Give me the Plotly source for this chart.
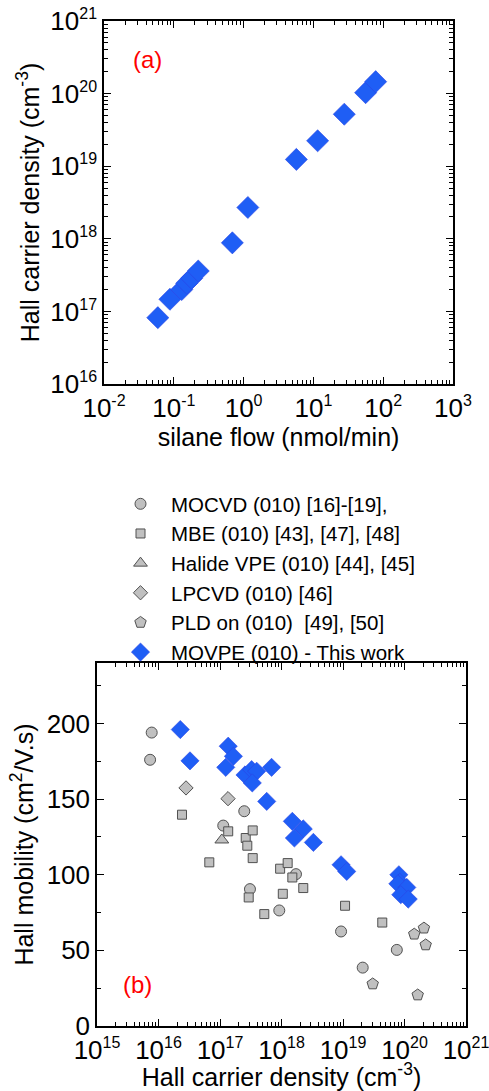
import plotly.graph_objects as go

W, H = 489, 1091

# ---------------- data: panel (a) ----------------
silane_flow = [0.059, 0.088, 0.13, 0.153, 0.18, 0.224, 0.69, 1.15, 5.7, 11.5, 27.7, 56, 78]
hall_density_a = [8.2e16, 1.47e17, 2.0e17, 2.44e17, 2.86e17, 3.6e17, 8.8e17, 2.7e18,
                  1.24e19, 2.24e19, 5.2e19, 1.03e20, 1.46e20]

# ---------------- data: panel (b) ----------------
mocvd_n = [7.75e15, 7.3e15, 2.48e17, 1.13e17, 3.07e17, 9.2e17, 1.72e18, 9.3e18, 2.09e19, 7.5e19]
mocvd_mu = [194, 176, 142, 132.5, 90.5, 76.4, 100.4, 62.5, 38.6, 50.3]

mbe_n = [2.41e16, 6.7e16, 1.36e17, 2.62e17, 2.78e17, 3.4e17, 3.4e17, 2.93e17, 5.25e17,
         9.5e17, 1.26e18, 1.05e18, 1.5e18, 2.26e18, 1.08e19, 4.35e19]
mbe_mu = [139.7, 108.2, 128.7, 124.3, 119.2, 129.3, 111, 85, 74, 104, 107.7, 87.4, 98.2,
          91.2, 79.5, 68.4]

hvpe_n = [1.07e17]
hvpe_mu = [123]

lpcvd_n = [2.8e16, 1.35e17]
lpcvd_mu = [157.4, 150.3]

pld_n = [3.04e19, 2.07e20, 1.44e20, 2.21e20, 1.64e20]
pld_mu = [27.8, 64.7, 60.7, 53.6, 20.5]

movpe_n = [2.26e16, 3.25e16, 1.36e17, 1.65e17, 1.24e17, 2.55e17, 3.27e17, 3.95e17, 3.35e17,
           6.9e17, 5.75e17, 1.5e18, 2.26e18, 1.62e18, 3.3e18, 9.3e18, 1.15e19,
           8.1e19, 8.4e19, 7.8e19, 1.09e20, 8.7e19, 1.15e20]
movpe_mu = [196, 175.3, 185, 178.3, 171, 166, 169.5, 168.4, 160.7,
            171, 148.5, 135.3, 130.3, 124.3, 121.4, 106.6, 102.2,
            100, 95, 94, 91.6, 86.8, 83.9]

legend_names = ["MOCVD (010) [16]-[19],", "MBE (010) [43], [47], [48]",
                "Halide VPE (010) [44], [45]", "LPCVD (010) [46]",
                "PLD on (010)  [49], [50]", "MOVPE (010) - This work"]

# ---------------- tick labels ----------------
xa_tickvals = [1e-2, 1e-1, 1e0, 1e1, 1e2, 1e3]
xa_exponents = ["-2", "-1", "0", "1", "2", "3"]
ya_tickvals = [1e16, 1e17, 1e18, 1e19, 1e20, 1e21]
ya_exponents = ["16", "17", "18", "19", "20", "21"]
xb_tickvals = [1e15, 1e16, 1e17, 1e18, 1e19, 1e20, 1e21]
xb_exponents = ["15", "16", "17", "18", "19", "20", "21"]
yb_tickvals = [0, 50, 100, 150, 200]
yb_ticktext = ["0", "50", "100", "150", "200"]


def pow_labels(exps):
    return ["10<sup><span style='font-size:16px'>%s</span></sup>" % e for e in exps]


BLUE = "#1f5ef5"
BLUE_EDGE = "#2b44e6"
GREY = "#c0c0c0"
GREY_EDGE = "#505050"
FONT = "Liberation Sans, Arial, sans-serif"


def minor_vals(e0, e1):
    return [m * 10.0 ** e for e in range(e0, e1) for m in range(2, 10)]


fig = go.Figure()

fig.add_trace(go.Scatter(x=silane_flow, y=hall_density_a, mode="markers",
                         marker=dict(symbol="diamond", size=17, color=BLUE,
                                     line=dict(color=BLUE_EDGE, width=0.6)),
                         showlegend=False, xaxis="x", yaxis="y"))

grey_line = dict(color=GREY_EDGE, width=1)
fig.add_trace(go.Scatter(x=mocvd_n, y=mocvd_mu, mode="markers", name=legend_names[0],
                         marker=dict(symbol="circle", size=11, color=GREY, line=grey_line),
                         xaxis="x2", yaxis="y2"))
fig.add_trace(go.Scatter(x=mbe_n, y=mbe_mu, mode="markers", name=legend_names[1],
                         marker=dict(symbol="square", size=9, color=GREY, line=grey_line),
                         xaxis="x2", yaxis="y2"))
fig.add_trace(go.Scatter(x=hvpe_n, y=hvpe_mu, mode="markers", name=legend_names[2],
                         marker=dict(symbol="triangle-up", size=12, color=GREY, line=grey_line),
                         xaxis="x2", yaxis="y2"))
fig.add_trace(go.Scatter(x=lpcvd_n, y=lpcvd_mu, mode="markers", name=legend_names[3],
                         marker=dict(symbol="diamond", size=11, color=GREY, line=grey_line),
                         xaxis="x2", yaxis="y2"))
fig.add_trace(go.Scatter(x=pld_n, y=pld_mu, mode="markers", name=legend_names[4],
                         marker=dict(symbol="pentagon", size=12, color=GREY, line=grey_line),
                         xaxis="x2", yaxis="y2"))
fig.add_trace(go.Scatter(x=movpe_n, y=movpe_mu, mode="markers", name=legend_names[5],
                         marker=dict(symbol="diamond", size=14, color=BLUE,
                                     line=dict(color=BLUE_EDGE, width=0.6)),
                         xaxis="x2", yaxis="y2"))

axis_common = dict(showline=True, linecolor="black", linewidth=1.5, mirror="allticks",
                   ticks="inside", ticklen=7, tickwidth=1.2, tickcolor="black",
                   showgrid=False, zeroline=False, automargin=False,
                   ticklabeloverflow="allow",
                   tickfont=dict(family=FONT, size=26, color="black"))
minor_common = dict(ticks="inside", ticklen=4, tickwidth=1, tickcolor="black", showgrid=False)
TITLE_SIZE = 25

fig.update_layout(
    template="none",
    width=W, height=H,
    margin=dict(l=0, r=0, t=0, b=0),
    paper_bgcolor="white", plot_bgcolor="white",
    font=dict(family=FONT, color="black"),
    xaxis=dict(axis_common, type="log", range=[-2, 3], domain=[104 / W, 453 / W],
               anchor="y", tickmode="array", tickvals=xa_tickvals,
               ticktext=pow_labels(xa_exponents),
               minor=dict(minor_common, tickmode="array", tickvals=minor_vals(-2, 3)),
               title=dict(text="silane flow (nmol/min)", font=dict(size=TITLE_SIZE), standoff=2)),
    yaxis=dict(axis_common, type="log", range=[16, 21],
               domain=[1 - 384 / H, 1 - 21 / H], anchor="x",
               tickmode="array", tickvals=ya_tickvals, ticktext=pow_labels(ya_exponents),
               minor=dict(minor_common, tickmode="array", tickvals=minor_vals(16, 21)),
               title=dict(text="Hall carrier density (cm<sup>-3</sup>)",
                          font=dict(size=TITLE_SIZE), standoff=4)),
    xaxis2=dict(axis_common, type="log", range=[15, 21], domain=[97 / W, 466 / W],
                anchor="y2", tickmode="array", tickvals=xb_tickvals,
                ticktext=pow_labels(xb_exponents),
                minor=dict(minor_common, tickmode="array", tickvals=minor_vals(15, 21)),
                title=dict(text="Hall carrier density (cm<sup>-3</sup>)",
                           font=dict(size=TITLE_SIZE), standoff=2)),
    yaxis2=dict(axis_common, range=[0, 240], domain=[1 - 1026 / H, 1 - 663 / H],
                anchor="x2", tickmode="array", tickvals=yb_tickvals, ticktext=yb_ticktext,
                minor=dict(minor_common, tickmode="linear", tick0=0, dtick=25),
                title=dict(text="Hall mobility (cm<sup>2</sup>/V.s)",
                           font=dict(size=TITLE_SIZE), standoff=6)),
    showlegend=True,
    legend=dict(x=110 / W, y=1 - 484 / H, xanchor="left", yanchor="top",
                font=dict(family=FONT, size=20.5, color="black"),
                bgcolor="rgba(0,0,0,0)", itemwidth=51, tracegroupgap=0),
    annotations=[
        dict(text="(a)", x=147 / W, y=1 - 60 / H, xref="paper", yref="paper",
             xanchor="center", yanchor="middle",
             showarrow=False, font=dict(family=FONT, size=24, color="red")),
        dict(text="(b)", x=137 / W, y=1 - 984 / H, xref="paper", yref="paper",
             xanchor="center", yanchor="middle",
             showarrow=False, font=dict(family=FONT, size=24, color="red")),
    ],
)

fig.write_html("out.html")
